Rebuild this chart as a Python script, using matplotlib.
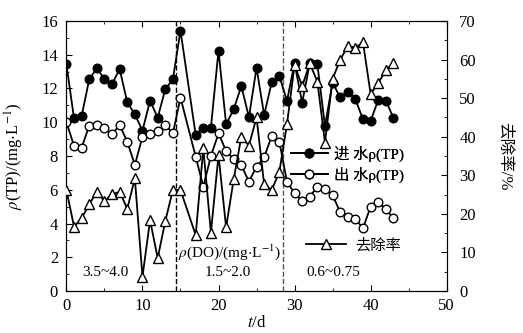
import matplotlib
matplotlib.use("Agg")
import matplotlib.pyplot as plt

plt.rcParams['font.family'] = ['Liberation Serif', 'Noto Sans CJK SC']
plt.rcParams['mathtext.fontset'] = 'stix'

days = [0, 1, 2, 3, 4, 5, 6, 7, 8, 9, 10, 11, 12, 13, 14, 15,
        17, 18, 19, 20, 21, 22, 23, 24, 25, 26, 27, 28, 29, 30,
        31, 32, 33, 34, 35, 36, 37, 38, 39, 40, 41, 42, 43]
inflow_tp = [13.43, 10.23, 10.37, 12.54, 13.2, 12.56, 12.25, 13.16, 11.18, 10.47,
             9.5, 11.28, 10.27, 11.95, 12.54, 15.43,
             9.24, 9.68, 9.68, 14.24, 9.88, 10.77, 12.15, 10.29, 13.23, 10.43,
             12.37, 12.74, 11.26, 13.49, 11.16, 13.49, 13.43, 9.78, 12.34, 11.47,
             11.81, 11.36, 10.17, 10.07, 11.32, 11.28, 10.27]
outflow_tp = [10.0, 8.61, 8.49, 9.8, 9.84, 9.64, 9.28, 9.84, 8.85, 7.47,
              9.14, 9.28, 9.48, 9.84, 9.34, 11.46,
              7.96, 6.18, 8.0, 9.34, 8.3, 7.8, 7.45, 6.48, 7.37, 7.92,
              9.19, 8.85, 6.48, 5.79, 5.33, 5.59, 6.18, 6.02, 5.69, 4.67,
              4.37, 4.27, 3.72, 5.0, 5.26, 4.86, 4.31]
removal = [26.2, 16.7, 18.85, 22.5, 25.7, 23.3, 25.1, 25.7, 21.3, 29.2,
           3.7, 18.4, 8.5, 18.1, 26.2, 26.2,
           14.5, 37.0, 15.1, 35.2, 16.5, 29.0, 40.0, 37.7, 45.0, 27.7,
           26.2, 30.9, 43.2, 58.6, 53.1, 59.0, 54.3, 38.5, 55.0, 59.9,
           63.5, 63.1, 64.5, 51.1, 53.8, 57.3, 59.0]
stage_bounds = [14.4, 28.45]
stage_labels = ['3.5~4.0', '1.5~2.0', '0.6~0.75']
stage_label_x = [5.1, 21.2, 35.1]
legend_labels = ['进 水ρ(TP)', '出 水ρ(TP)', '去除率']

fig = plt.figure(figsize=(5.23, 3.33), dpi=100)
ax = fig.add_axes([0.127, 0.126, 0.727, 0.811])
ax2 = ax.twinx()

lw = 1.3
l1, = ax.plot(days, inflow_tp, '-o', color='black', lw=lw, ms=6.2,
              mfc='black', mec='black', zorder=3)
l2, = ax.plot(days, outflow_tp, '-o', color='black', lw=lw, ms=6.2,
              mfc='white', mec='black', zorder=3)
l3, = ax2.plot(days, removal, '-^', color='black', lw=lw, ms=7.5,
               mfc='white', mec='black', zorder=3)

ax.axvline(stage_bounds[0], color='black', ls='--', lw=1.0)
ax.axvline(stage_bounds[1], color='#555555', ls='--', lw=1.0)

ax.set_xlim(0, 50)
ax.set_ylim(0, 16)
ax2.set_ylim(0, 70)
ax.set_xticks(range(0, 51, 10))
ax.set_xticks(range(0, 51, 5), minor=True)
ax.set_yticks(range(0, 17, 2))
ax.set_yticks(range(0, 17, 1), minor=True)
ax2.set_yticks(range(0, 71, 10))
ax2.set_yticks(range(0, 71, 5), minor=True)

for a in (ax, ax2):
    a.tick_params(which='both', direction='in', labelsize=12)
    a.tick_params(which='major', length=4)
    a.tick_params(which='minor', length=2.5)
ax.tick_params(which='both', top=True)
ax.tick_params(axis='y', pad=6)
ax.tick_params(axis='x', pad=5)
ax2.tick_params(axis='y', pad=9)

ax.set_xlabel('$t$/d', fontsize=12, labelpad=1)
ax.set_ylabel(r'$\rho$(TP)/(mg$\cdot$L$^{-1}$)', fontsize=12, labelpad=11)
ax2.set_ylabel('去除率/%', fontsize=12, rotation=-90, labelpad=26)

for lab, x in zip(stage_labels, stage_label_x):
    ax.text(x, 1.07, lab, ha='center', va='center', fontsize=11)
ax.text(21.5, 2.3, r'$\rho$(DO)/(mg$\cdot$L$^{-1}$)', ha='center', va='center', fontsize=11)

leg1 = ax.legend([l1, l2], legend_labels[:2],
                 loc='center left', bbox_to_anchor=(0.591, 0.47), frameon=False,
                 fontsize=11, handlelength=2.4, handletextpad=0.4,
                 labelspacing=0.3, borderpad=0, borderaxespad=0)
ax.add_artist(leg1)
ax2.legend([l3], legend_labels[2:], loc='center left', bbox_to_anchor=(0.630, 0.17),
           frameon=False, fontsize=11, handlelength=2.6, handletextpad=0.6,
           borderpad=0, borderaxespad=0)

fig.savefig('out.png', dpi=100)
